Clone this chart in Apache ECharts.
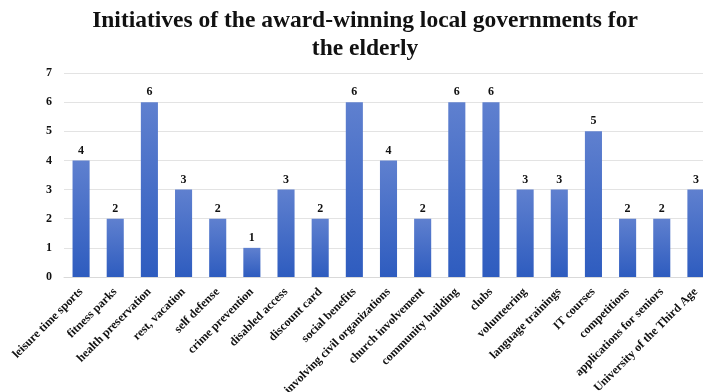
<!DOCTYPE html>
<html>
<head>
<meta charset="utf-8">
<script src="https://cdn.jsdelivr.net/npm/echarts@6/dist/echarts.min.js"></script>
<style>
  html, body { margin: 0; padding: 0; background: #fff; }
  #chart { width: 703px; height: 392px; }
</style>
</head>
<body>
<div id="chart"></div>
<script>
// Initiatives and how many award-winning local governments run each
const categories = [
  'leisure time sports', 'fitness parks', 'health preservation', 'rest, vacation',
  'self defense', 'crime prevention', 'disabled access', 'discount card',
  'social benefits', 'involving civil organizations', 'church involvement',
  'community building', 'clubs', 'volunteering', 'language trainings',
  'IT courses', 'competitions', 'applications for seniors', 'University of the Third Age'
];
const counts = [4, 2, 6, 3, 2, 1, 3, 2, 6, 4, 2, 6, 6, 3, 3, 5, 2, 2, 3];
const yTicks = [0, 1, 2, 3, 4, 5, 6, 7];

const titleLines = ['Initiatives of the award-winning local governments for', 'the elderly'];
const serif = '"Liberation Serif", "Times New Roman", serif';

const chart = echarts.init(document.getElementById('chart'), null, { renderer: 'canvas' });

chart.setOption({
  animation: false,
  backgroundColor: '#ffffff',
  graphic: [{
    type: 'text',
    x: 365,
    y: 7,
    style: {
      text: titleLines.join('\n'),
      align: 'center',
      verticalAlign: 'top',
      font: 'bold 23.5px ' + serif,
      fill: '#111',
      lineHeight: 28
    }
  }],
  grid: {
    left: 64, right: -10, top: 73, bottom: 115,
    containLabel: false,
    outerBoundsMode: 'none'
  },
  xAxis: {
    type: 'category',
    data: categories,
    axisTick: { show: false },
    axisLine: { lineStyle: { color: '#d9d9d9', width: 1 } },
    axisLabel: {
      interval: 0,
      rotate: 45,
      margin: 13,
      color: '#111',
      fontFamily: serif,
      fontWeight: 'bold',
      fontSize: 12
    }
  },
  yAxis: {
    type: 'value',
    min: yTicks[0],
    max: yTicks[yTicks.length - 1],
    interval: 1,
    axisLine: { show: false },
    axisTick: { show: false },
    splitLine: { lineStyle: { color: '#e3e3e3', width: 1 } },
    axisLabel: {
      margin: 12,
      color: '#111',
      fontFamily: serif,
      fontWeight: 'bold',
      fontSize: 12
    }
  },
  series: [{
    type: 'bar',
    data: counts,
    barWidth: '50%',
    itemStyle: {
      color: new echarts.graphic.LinearGradient(0, 0, 0, 1, [
        { offset: 0, color: '#5f80cf' },
        { offset: 1, color: '#2e5cbf' }
      ])
    },
    label: {
      show: true,
      position: 'top',
      distance: 4,
      color: '#111',
      fontFamily: serif,
      fontWeight: 'bold',
      fontSize: 12
    }
  }]
});
</script>
</body>
</html>
